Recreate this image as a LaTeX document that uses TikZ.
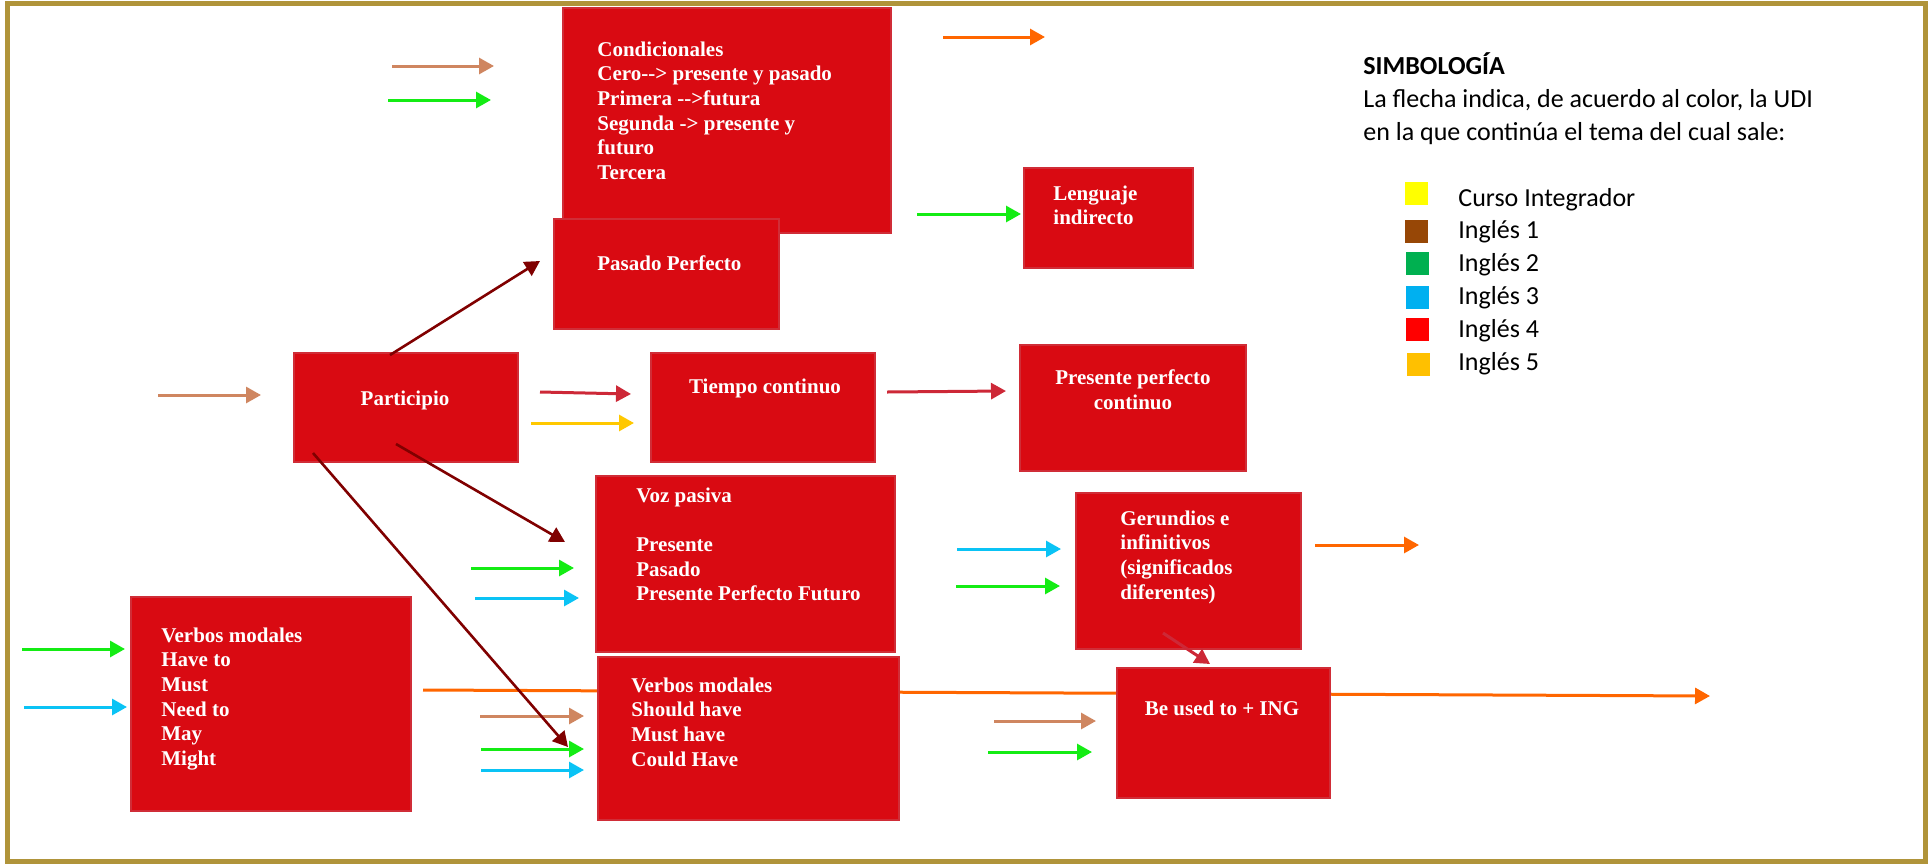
\documentclass[tikz,border=0pt]{standalone}
\usepackage{fontspec}
\setmainfont{Liberation Serif}
\newfontfamily\legendfont{Carlito}
\usepackage{xcolor}
\usetikzlibrary{arrows.meta}

\definecolor{boxred}{RGB}{217,10,18}
\definecolor{boxedge}{RGB}{208,45,55}
\definecolor{framegold}{RGB}{176,148,58}
\definecolor{tanA}{RGB}{207,134,96}
\definecolor{grnA}{RGB}{20,236,20}
\definecolor{cynA}{RGB}{10,195,245}
\definecolor{orgA}{RGB}{255,102,0}
\definecolor{drkA}{RGB}{128,0,0}
\definecolor{crmA}{RGB}{205,40,55}
\definecolor{yelA}{RGB}{255,200,0}
\definecolor{legYellow}{RGB}{255,255,0}
\definecolor{legBrown}{RGB}{151,71,6}
\definecolor{legGreen}{RGB}{0,176,80}
\definecolor{legCyan}{RGB}{0,176,240}
\definecolor{legRed}{RGB}{255,0,0}
\definecolor{legGold}{RGB}{255,192,0}

\tikzset{
  box/.style 2 args={draw=boxedge, fill=boxred, line width=1pt, anchor=north west,
    inner sep=0pt, minimum width=#1*0.5pt, minimum height=#2*0.5pt},
  boxtext/.style={text=white, font=\fontsize{10.5}{12.3}\selectfont\bfseries,
    inner sep=0pt, anchor=north west, align=left, yshift=-1.2pt, execute at begin node=\strut},
  boxtextc/.style={boxtext, anchor=north, align=center},
  arr/.style={-{Triangle[length=7.5pt,width=8pt]}, line width=1.5pt},
  legtext/.style={font=\legendfont\fontsize{13}{16.5}\selectfont, inner sep=0pt}
}

\begin{document}
\begin{tikzpicture}[x=0.5pt,y=-0.5pt]
  \useasboundingbox (0,0) rectangle (1932,863);
  % Frame
  \draw[framegold, line width=2.5pt] (7.5,3.5) rectangle (1925,861);

  % Long orange line, behind the boxes
  \coordinate (os) at (423,690);
  \coordinate (oe) at (1710,696);
  \draw[arr,orgA] (os) -- (oe);

  % Boxes
  \node[box={328}{225}] (cond) at (562,7) {};
  \node[boxtext] (condT) at (597,38.85) {Condicionales\\Cero-{}-> presente y pasado\\Primera -{}->futura\\Segunda -> presente y\\futuro\\Tercera};
  \node[box={225}{110}] (pasado) at (553,218) {};
  \node[boxtext] (pasadoT) at (597,250.85) {Pasado Perfecto};
  \node[box={169}{100}] (leng) at (1023,167) {};
  \node[boxtext] (lengT) at (1053,182.85) {Lenguaje\\indirecto};
  \node[box={224}{109}] (part) at (293,352) {};
  \node[boxtextc] (partT) at (405,385.85) {Participio};
  \node[box={224}{109}] (tiempo) at (650,352) {};
  \node[boxtextc] (tiempoT) at (765,373.85) {Tiempo continuo};
  \node[box={226}{126}] (ppc) at (1019,344) {};
  \node[boxtextc] (ppcT) at (1133,366.85) {Presente perfecto\\continuo};
  \node[box={299}{176}] (voz) at (595,475) {};
  \node[boxtext] (vozT) at (636,484.85) {Voz pasiva\\\mbox{}\\Presente\\Pasado\\Presente Perfecto Futuro};
  \node[box={280}{214}] (modL) at (130,596) {};
  \node[boxtext] (modLT) at (161,624.85) {Verbos modales\\Have to\\Must\\Need to\\May\\Might};
  \node[box={301}{163}] (modC) at (597,656) {};
  \node[boxtext] (modCT) at (631,674.85) {Verbos modales\\Should have\\Must have\\Could Have};
  \node[box={225}{156}] (ger) at (1075,492) {};
  \node[boxtext] (gerT) at (1120,507.85) {Gerundios e\\infinitivos\\(significados\\diferentes)};
  \node[box={213}{130}] (used) at (1116,667) {};
  \node[boxtextc] (usedT) at (1222,695.85) {Be used to + ING};

  % Arrows
  \foreach \n/\xa/\ya/\xb/\yb/\col in {
      tanA1/392/66/494/66/tanA, grnA1/388/100/491/100/grnA,
      orgA1/943/37/1045/37/orgA, grnA2/917/214/1021/214/grnA,
      tanA2/158/395/261/395/tanA, crmA1/540/392/631/394/crmA,
      yelA1/531/423/634/423/yelA, crmA2/887/392/1006/391/crmA,
      grnA3/471/568/574/568/grnA, cynA1/475/598/579/598/cynA,
      grnA4/22/649/125/649/grnA, cynA2/24/707/127/707/cynA,
      tanA3/480/716/584/716/tanA, grnA5/481/749/584/749/grnA,
      cynA3/481/770/584/770/cynA, cynA4/957/549/1061/549/cynA,
      grnA6/956/586/1060/586/grnA, orgA2/1315/545/1419/545/orgA,
      crmA3/1163/633/1210/664/crmA, tanA4/994/721/1096/721/tanA,
      grnA7/988/752/1092/752/grnA}
  {
    \coordinate (\n-s) at (\xa,\ya);
    \coordinate (\n-e) at (\xb,\yb);
    \draw[arr,\col] (\n-s) -- (\n-e);
  }

  % Participio links
  \path
    (390,355) coordinate (p1) (540,261) coordinate (p1e)
    (396,444) coordinate (p2) (565,542) coordinate (p2e)
    (313,453) coordinate (p3) (568,747) coordinate (p3e);
  \draw[arr,drkA,line width=1.3pt] (p1) -- (p1e);
  \draw[arr,drkA,line width=1.3pt] (p2) -- (p2e);
  \draw[arr,drkA,line width=1.3pt] (p3) -- (p3e);

  % Legend
  \node[legtext, anchor=north west, align=left, execute at begin node=\strut] (legT) at (1363,51.9)
    {{\bfseries SIMBOLOGÍA}\\La flecha indica, de acuerdo al color, la UDI\\en la que continúa el tema del cual sale:};
  \foreach \col/\sx/\sy/\lab [count=\i] in {
      legYellow/1416/193.5/Curso Integrador, legBrown/1416/231.5/Inglés 1,
      legGreen/1417/263.5/Inglés 2, legCyan/1417/297/Inglés 3,
      legRed/1417/329.5/Inglés 4, legGold/1418/364.5/Inglés 5}
  {
    \node[fill=\col, inner sep=0pt, minimum size=11.5pt] (sq\i) at (\sx,\sy) {};
    \node[legtext, anchor=base west] (lab\i) at (1458,{206+32.8*(\i-1)}) {\lab};
  }
\end{tikzpicture}
\end{document}
